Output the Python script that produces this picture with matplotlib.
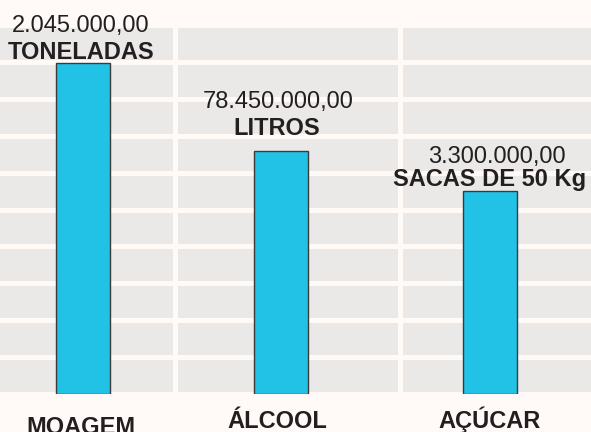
import matplotlib
matplotlib.use("Agg")
import matplotlib.pyplot as plt

categories = ["MOAGEM", "ÁLCOOL", "AÇÚCAR"]
bar_heights = [8.97, 6.59, 5.50]          # visual bar heights on the 0-10 grid
value_labels = ["2.045.000,00", "78.450.000,00", "3.300.000,00"]
unit_labels = ["TONELADAS", "LITROS", "SACAS DE 50 Kg"]

# layout
W, H = 591, 432
positions = [0, 0.973, 2.0]
px_per_x = 203.5
x0_px = 83
y_top_px, y_bot_px = 25, 394
px_per_y = (y_bot_px - y_top_px) / 10.0

def xd(px):
    return (px - x0_px) / px_per_x

def yd(px):
    return (y_bot_px - px) / px_per_y

plt.rcParams['font.family'] = ['Liberation Sans', 'DejaVu Sans']

fig = plt.figure(figsize=(W / 100, H / 100), dpi=100)
fig.patch.set_facecolor('#fffaf7')
ax = fig.add_axes([0, 1 - y_bot_px / H, 1, (y_bot_px - y_top_px) / H])
ax.set_facecolor('#eae9e7')
ax.set_xlim(xd(0), xd(W))
ax.set_ylim(0, 10)

ax.set_yticks(range(0, 11))
ax.set_xticks([xd(175), xd(400.5)])
ax.grid(True, color='#fffaf6', linewidth=3.6, zorder=1)
ax.set_axisbelow(True)
ax.tick_params(length=0, labelbottom=False, labelleft=False)
for s in ax.spines.values():
    s.set_visible(False)

ax.bar(positions, bar_heights, width=0.265, color='#22c2e6',
       edgecolor='#3a3a3a', linewidth=1.0, zorder=3)

num_x = [81, 278, 497]
num_base = [32, 108, 163]
unit_x = [81.5, 277, 490]
unit_base = [59, 135, 186]
cat_x = [81, 277, 490]
cat_base = [434, 428, 428]

for i in range(3):
    ax.text(xd(num_x[i]), yd(num_base[i]), value_labels[i], ha='center',
            va='baseline', fontsize=17, color='#231f20', zorder=5, clip_on=False)
    ax.text(xd(unit_x[i]), yd(unit_base[i]), unit_labels[i], ha='center',
            va='baseline', fontsize=17, fontweight='bold', color='#231f20',
            zorder=5, clip_on=False)
    ax.text(xd(cat_x[i]), yd(cat_base[i]), categories[i], ha='center',
            va='baseline', fontsize=17, fontweight='bold', color='#231f20',
            zorder=5, clip_on=False)

fig.savefig('out.png', dpi=100, facecolor=fig.get_facecolor())
